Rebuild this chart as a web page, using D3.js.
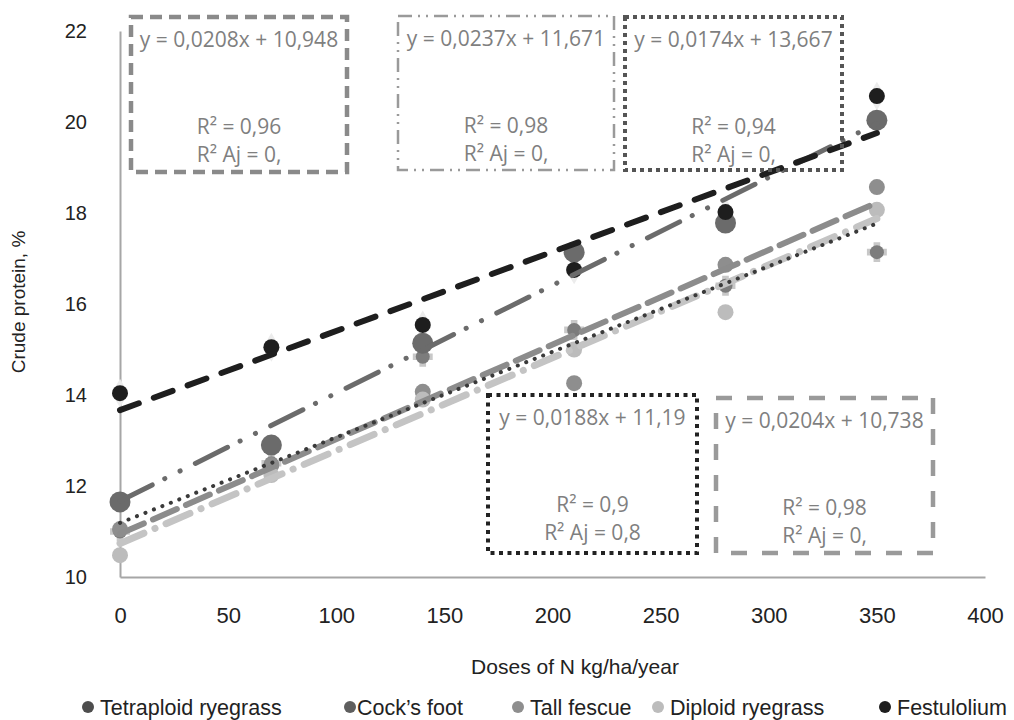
<!DOCTYPE html>
<html>
<head>
<meta charset="utf-8">
<script src="https://cdn.jsdelivr.net/npm/d3@7"></script>
<style>
  body { margin: 0; background: #fff; }
  svg { display: block; }
</style>
</head>
<body>
<svg id="chart" width="1014" height="720"></svg>
<script>
// doses and crude protein values
const doses = [0, 70, 140, 210, 280, 350];
const tetraploid = [11.0, 12.5, 14.84, 15.43, 16.4, 17.14];
const cocksFoot = [11.65, 12.9, 15.14, 17.14, 17.78, 20.04];
const tallFescue = [11.05, 12.46, 14.07, 14.26, 16.86, 18.57];
const diploid = [10.48, 12.24, 13.9, 15.0, 15.82, 18.07];
const festulolium = [14.04, 15.05, 15.54, 16.75, 18.02, 20.57];

const seriesNames = ['Tetraploid ryegrass', 'Cock\u2019s foot', 'Tall fescue', 'Diploid ryegrass', 'Festulolium'];
// trend equations: slope, intercept
const slopes = [0.0188, 0.0237, 0.0208, 0.0204, 0.0174];
const intercepts = [11.19, 11.671, 10.948, 10.738, 13.667];
const eqLabels = ['y = 0,0188x + 11,19', 'y = 0,0237x + 11,671', 'y = 0,0208x + 10,948', 'y = 0,0204x + 10,738', 'y = 0,0174x + 13,667'];
const r2Labels = ['R\u00b2 = 0,9', 'R\u00b2 = 0,98', 'R\u00b2 = 0,96', 'R\u00b2 = 0,98', 'R\u00b2 = 0,94'];
const r2AjLabels = ['R\u00b2 Aj = 0,8', 'R\u00b2 Aj = 0,', 'R\u00b2 Aj = 0,', 'R\u00b2 Aj = 0,', 'R\u00b2 Aj = 0,'];

const xTicks = [0, 50, 100, 150, 200, 250, 300, 350, 400];
const yTicks = [10, 12, 14, 16, 18, 20, 22];

const values = [tetraploid, cocksFoot, tallFescue, diploid, festulolium];

const svg = d3.select('#chart');
const font = 'Liberation Sans, Arial, sans-serif';
const boxFont = 'Open Sans, sans-serif';

const x = d3.scaleLinear().domain([0, 400]).range([120, 985]);
const y = d3.scaleLinear().domain([10, 22]).range([577, 31]);

// styles per series
const pointColor = ['#7c7c7c', '#6b6b6b', '#8e8e8e', '#bcbcbc', '#1e1e1e'];
const legendColor = ['#4d4d4d', '#5e5e5e', '#8e8e8e', '#bcbcbc', '#1e1e1e'];
const pointR = [7, 10.5, 8, 8, 8];
const lineColor = ['#3a3a3a', '#6b6b6b', '#8c8c8c', '#c4c4c4', '#1e1e1e'];
const lineWidth = [4, 5, 6, 7, 6];
const lineDash = ['0.1,9', '36,14,0.1,17,0.1,17', '26,10', '26,12,0.1,12', '20,16'];

// axes
svg.append('g')
  .attr('transform', `translate(0,${y(10)})`)
  .call(d3.axisBottom(x).tickValues(xTicks).tickSize(0).tickPadding(30))
  .call(g => g.select('.domain').attr('stroke', '#a6a6a6').attr('stroke-width', 2))
  .call(g => g.selectAll('text').attr('font-family', font).attr('font-size', 22).attr('fill', '#222'));

svg.append('g')
  .attr('transform', `translate(${x(0)},0)`)
  .call(d3.axisLeft(y).tickValues(yTicks).tickSize(0).tickPadding(33))
  .call(g => g.select('.domain').attr('stroke', '#a6a6a6').attr('stroke-width', 2))
  .call(g => g.selectAll('text').attr('font-family', font).attr('font-size', 20).attr('fill', '#222'));

svg.append('text')
  .attr('x', 575).attr('y', 674)
  .attr('text-anchor', 'middle')
  .attr('font-family', font).attr('font-size', 21).attr('fill', '#222')
  .text('Doses of N kg/ha/year');

svg.append('text')
  .attr('transform', 'translate(25,302) rotate(-90)')
  .attr('text-anchor', 'middle')
  .attr('font-family', font).attr('font-size', 19).attr('fill', '#222')
  .text('Crude protein, %');

// faint diamonds behind Festulolium points
svg.append('g').selectAll('path').data(festulolium).enter().append('path')
  .attr('d', d3.symbol(d3.symbolDiamond, 240))
  .attr('transform', (d, j) => `translate(${x(doses[j])},${y(d)})`)
  .attr('fill', '#ececec');

// points
values.forEach((vals, i) => {
  const g = svg.append('g');
  if (i === 0) {
    g.selectAll('path').data(vals).enter().append('path')
      .attr('d', d3.symbol(d3.symbolCross, 220))
      .attr('transform', (d, j) => `translate(${x(doses[j])},${y(d)})`)
      .attr('fill', '#c8c8c8');
  }
  g.selectAll('circle').data(vals).enter().append('circle')
    .attr('cx', (d, j) => x(doses[j]))
    .attr('cy', d => y(d))
    .attr('r', pointR[i])
    .attr('fill', pointColor[i]);
});

// trend lines
const line = d3.line().x(d => x(d[0])).y(d => y(d[1]));
[3, 2, 0, 1, 4].forEach(i => {
  const pts = [0, 350].map(d => [d, intercepts[i] + slopes[i] * d]);
  svg.append('path')
    .attr('d', line(pts))
    .attr('fill', 'none')
    .attr('stroke', lineColor[i])
    .attr('stroke-width', lineWidth[i])
    .attr('stroke-dasharray', lineDash[i])
    .attr('stroke-linecap', 'round');
});

// equation boxes
const boxes = [
  { s: 0, x0: 488, y0: 395, x1: 697, y1: 553, stroke: '#222', w: 4, dash: '4,4.5' },
  { s: 1, x0: 398, y0: 16, x1: 614, y1: 170, stroke: '#9a9a9a', w: 2.5, dash: '14,6,2,6,2,6' },
  { s: 2, x0: 131, y0: 17, x1: 347, y1: 172, stroke: '#8a8a8a', w: 4.5, dash: '12,7' },
  { s: 3, x0: 716, y0: 398, x1: 933, y1: 553, stroke: '#9a9a9a', w: 4.5, dash: '16,15' },
  { s: 4, x0: 625, y0: 17, x1: 842, y1: 170, stroke: '#555', w: 4, dash: '4,4' }
];
boxes.forEach(b => {
  const g = svg.append('g');
  g.append('rect')
    .attr('x', b.x0).attr('y', b.y0)
    .attr('width', b.x1 - b.x0).attr('height', b.y1 - b.y0)
    .attr('fill', 'none')
    .attr('stroke', b.stroke).attr('stroke-width', b.w)
    .attr('stroke-dasharray', b.dash);
  const cx = (b.x0 + b.x1) / 2;
  const txt = [[eqLabels[b.s], 30], [r2Labels[b.s], 117], [r2AjLabels[b.s], 145]];
  txt.forEach(t => {
    g.append('text')
      .attr('x', cx).attr('y', b.y0 + t[1])
      .attr('text-anchor', 'middle')
      .attr('font-family', boxFont).attr('font-size', 21)
      .attr('fill', '#7f7f7f')
      .text(t[0]);
  });
});

// legend
const legendX = [88, 350, 518, 658, 885];
const legend = svg.append('g');
seriesNames.forEach((name, i) => {
  legend.append('circle')
    .attr('cx', legendX[i]).attr('cy', 707).attr('r', 6)
    .attr('fill', legendColor[i]);
  legend.append('text')
    .attr('x', legendX[i] + (i === 1 ? 7 : 12)).attr('y', 715)
    .attr('font-family', font).attr('font-size', 21.5).attr('fill', '#222')
    .text(name);
});
</script>
</body>
</html>
